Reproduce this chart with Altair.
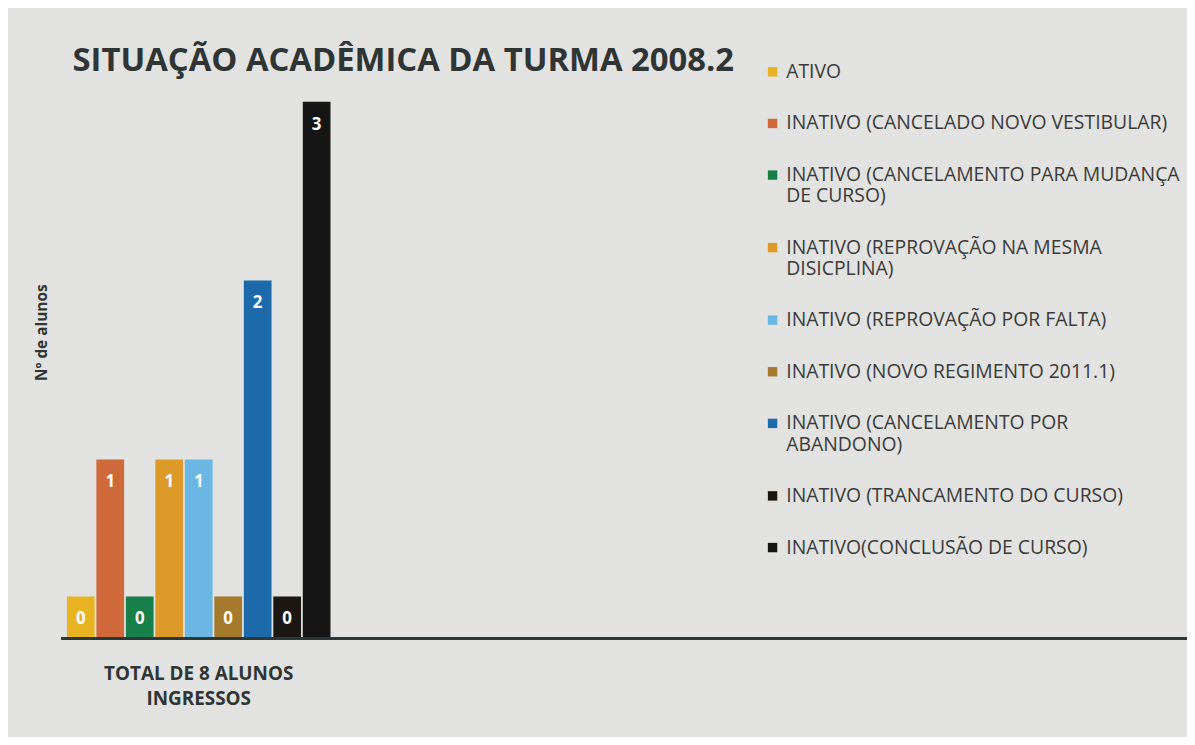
import altair as alt
import pandas as pd

CATEGORY_LINES = ["TOTAL DE 8 ALUNOS", "INGRESSOS"]
SERIES = [
    "ATIVO",
    "INATIVO (CANCELADO NOVO VESTIBULAR)",
    "INATIVO (CANCELAMENTO PARA MUDANÇA DE CURSO)",
    "INATIVO (REPROVAÇÃO NA MESMA DISICPLINA)",
    "INATIVO (REPROVAÇÃO POR FALTA)",
    "INATIVO (NOVO REGIMENTO 2011.1)",
    "INATIVO (CANCELAMENTO POR ABANDONO)",
    "INATIVO (TRANCAMENTO DO CURSO)",
    "INATIVO(CONCLUSÃO DE CURSO)",
]
VALUES = [0, 1, 0, 1, 1, 0, 2, 0, 3]
COLORS = ["#e8b321", "#d0693a", "#17804a", "#dd9a28", "#69b7e2",
          "#a57a2c", "#1c6aaa", "#1d1714", "#151515"]
# legend label line breaks
LEGEND_BREAKS = {
    "INATIVO (CANCELAMENTO PARA MUDANÇA DE CURSO)": ["INATIVO (CANCELAMENTO PARA MUDANÇA", "DE CURSO)"],
    "INATIVO (REPROVAÇÃO NA MESMA DISICPLINA)": ["INATIVO (REPROVAÇÃO NA MESMA", "DISICPLINA)"],
    "INATIVO (CANCELAMENTO POR ABANDONO)": ["INATIVO (CANCELAMENTO POR", "ABANDONO)"],
}

category = " ".join(CATEGORY_LINES)
df = pd.DataFrame({"cat": category, "serie": SERIES, "valor": VALUES})

label_expr = " : ".join(
    [f"datum.label == '{k}' ? ['{v[0]}', '{v[1]}']" for k, v in LEGEND_BREAKS.items()]
) + " : datum.label"
x_label_expr = "[" + ", ".join(f"'{s}'" for s in CATEGORY_LINES) + "]"

W, H = 276, 540
base = alt.Chart(df).transform_calculate(
    shown="max(datum.valor, 0.233)"
)

x = alt.X("cat:N", title=None, scale=alt.Scale(paddingInner=0, paddingOuter=0.02),
          axis=alt.Axis(domain=False, ticks=False, labelAngle=0, labelExpr=x_label_expr,
                        labelFont="Open Sans", labelFontSize=19, labelFontWeight="bold",
                        labelColor="#2f3535", labelPadding=27, labelLineHeight=25,
                        labelLimit=500))
y = alt.Y("shown:Q", title="Nº de alunos", scale=alt.Scale(domain=[0, 3], nice=False),
          axis=alt.Axis(domain=False, ticks=False, labels=False, grid=False,
                        titleFont="Open Sans", titleFontSize=15.5, titleFontWeight="bold",
                        titleColor="#2f3535", titleX=-20, titleY=232,
                        titleAlign="center", titleBaseline="middle"))
xo = alt.XOffset("serie:N", sort=SERIES, scale=alt.Scale(paddingInner=0.06, paddingOuter=0))

bars = base.mark_bar().encode(
    x=x, y=y, xOffset=xo,
    color=alt.Color("serie:N", sort=SERIES, scale=alt.Scale(domain=SERIES, range=COLORS),
                    legend=alt.Legend(title=None, orient="none", legendX=706, legendY=-40,
                                      symbolType="square", symbolSize=90, symbolStrokeWidth=0,
                                      labelFont="Open Sans", labelFontSize=19.5,
                                      labelColor="#3a3a3a", labelLimit=600, labelOffset=4,
                                      rowPadding=31, padding=0, labelExpr=label_expr)),
)
labels = base.mark_text(color="white", font="Open Sans", fontSize=17, fontWeight="bold",
                        baseline="middle", dy=23).encode(
    x=x, y=y, xOffset=xo, text="valor:Q"
)
baseline = alt.Chart(df).mark_rule(color="#2a3838", strokeWidth=2.5).encode(
    x=alt.value(0), x2=alt.value(1133), y=alt.value(H)
)

chart = alt.layer(bars, labels, baseline).properties(
    width=W, height=H,
    title=alt.TitleParams("SITUAÇÃO ACADÊMICA DA TURMA 2008.2", anchor="start", frame="group",
                          font="Open Sans", fontSize=33, fontWeight="bold",
                          color="#2f3535", offset=28, dx=11, dy=44),
    autosize=alt.AutoSizeParams(type="none"),
    padding={"left": 54, "top": 92, "right": 857, "bottom": 97},
    background="#e2e2e0",
).configure_view(stroke=None)

chart.save("out.html", embed_options={"renderer": "svg", "actions": False})
